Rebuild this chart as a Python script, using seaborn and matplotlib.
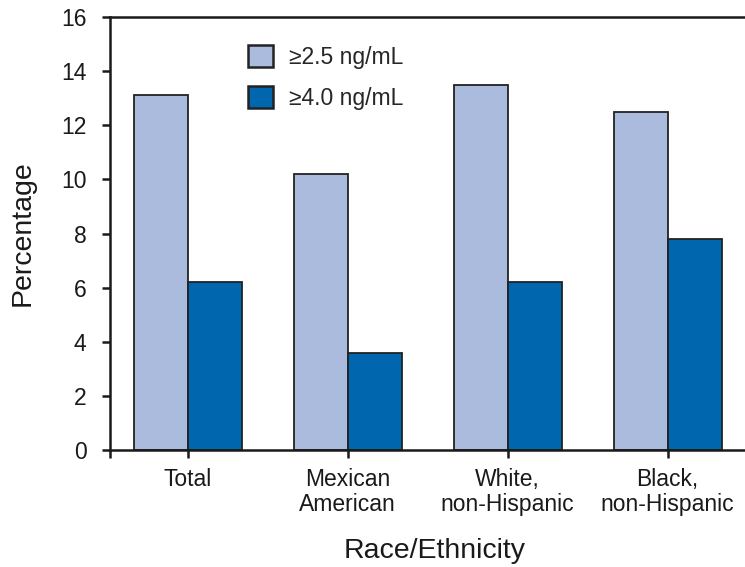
import pandas as pd
import matplotlib
matplotlib.use('Agg')
import matplotlib.pyplot as plt
import seaborn as sns

# values
groups = ['Total', 'Mexican\nAmerican', 'White,\nnon-Hispanic', 'Black,\nnon-Hispanic']
series = ['\u22652.5 ng/mL', '\u22654.0 ng/mL']
pct_25 = [13.1, 10.2, 13.5, 12.5]
pct_40 = [6.2, 3.6, 6.2, 7.8]
bar_colors = ['#AABBDD', '#0066AE']

df = pd.DataFrame({
    'group': groups * 2,
    'level': [series[0]] * 4 + [series[1]] * 4,
    'pct': pct_25 + pct_40,
})

sns.set_style('ticks')
plt.rcParams['font.family'] = ['Liberation Sans', 'DejaVu Sans']

fig = plt.figure(figsize=(7.45, 5.67), dpi=100)
ax = fig.add_axes([0.1477, 0.2063, 0.8725, 0.7637])

sns.barplot(data=df, x='group', y='pct', hue='level', order=groups, hue_order=series,
            palette=bar_colors, width=0.675, edgecolor='#222222', linewidth=1.3,
            saturation=1, ax=ax)

ax.set_ylim(0, 16)
ax.set_xlim(-0.487, 3.578)
ax.set_yticks(range(0, 17, 2))
# extra tick where the bottom axis starts, like the original frame corner
ax.set_xticks([-0.487, 0, 1, 2, 3])
ax.set_xticklabels([''] + groups)

for s in ['top', 'bottom', 'left', 'right']:
    ax.spines[s].set_linewidth(1.8)
    ax.spines[s].set_color('#1a1a1a')

ax.tick_params(axis='both', length=6, width=1.8, color='#1a1a1a', labelsize=16.5, labelcolor='#1a1a1a')
ax.tick_params(axis='x', pad=7)
ax.tick_params(axis='y', pad=11)
for t in ax.get_xticklabels():
    t.set_linespacing(1.1)

ax.set_xlabel('Race/Ethnicity', fontsize=20.5, labelpad=16, color='#1a1a1a')
ax.set_ylabel('Percentage', fontsize=20.5, labelpad=18, color='#1a1a1a')

leg = ax.legend(loc='upper left', bbox_to_anchor=(248 / 745, 1 - 45 / 567),
                bbox_transform=fig.transFigure, frameon=False, fontsize=16.5,
                handlelength=1.1, handleheight=1.1, labelspacing=0.75,
                handletextpad=0.7, borderpad=0, borderaxespad=0)
for h in leg.legend_handles:
    h.set_edgecolor('#222222')
    h.set_linewidth(1.8)

fig.savefig('out.png', dpi=100)
